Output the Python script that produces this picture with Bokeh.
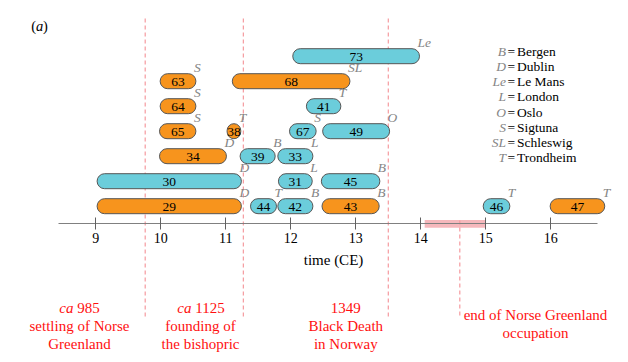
from bokeh.plotting import figure
from bokeh.models import Range1d, FixedTicker, ColumnDataSource
from bokeh.core.properties import value
from bokeh.embed import file_html
from bokeh.resources import INLINE

# ---------------- data ----------------
ids    = ["29", "44", "42", "43", "46", "47",
          "30", "31", "45",
          "34", "39", "33",
          "65", "38", "67", "49",
          "64", "41",
          "63", "68",
          "73"]
rows   = [1, 1, 1, 1, 1, 1,
          2, 2, 2,
          3, 3, 3,
          4, 4, 4, 4,
          5, 5,
          6, 6,
          7]
starts = [9.02, 11.38, 11.80, 12.48, 14.96, 15.99,
          9.02, 11.81, 12.47,
          9.98, 11.22, 11.80,
          9.98, 11.02, 11.98, 12.49,
          9.99, 12.24,
          9.99, 11.10,
          12.03]
ends   = [11.24, 11.78, 12.34, 13.36, 15.37, 16.83,
          11.24, 12.33, 13.37,
          11.01, 11.76, 12.34,
          10.54, 11.23, 12.39, 13.52,
          10.54, 12.77,
          10.54, 12.91,
          13.98]
kinds  = ["o", "b", "b", "o", "b", "o",
          "b", "b", "b",
          "o", "b", "b",
          "o", "o", "b", "b",
          "o", "b",
          "o", "o",
          "b"]
places = ["D", "T", "B", "B", "T", "T",
          "D", "L", "B",
          "D", "B", "L",
          "S", "T", "S", "O",
          "S", "T",
          "S", "SL",
          "Le"]

legend_abbr  = ["B", "D", "Le", "L", "O", "S", "SL", "T"]
legend_names = ["Bergen", "Dublin", "Le Mans", "London", "Oslo", "Sigtuna", "Schleswig", "Trondheim"]

tick_values = [9, 10, 11, 12, 13, 14, 15, 16]
event_x = [9.76, 11.27, 13.50, 14.60]
end_period = (14.06, 15.00)

# ---------------- layout helpers ----------------
W, H = 620, 354
OFF = 0
PX_C = 65.0
C9_X = 95.3
ROW1_Y = 205.7
PX_ROW = 25.0
X0 = 9 - (C9_X - OFF) / PX_C
Y_TOP = 1 + (ROW1_Y - OFF) / PX_ROW


def cx(px):
    return X0 + (px - OFF) / PX_C


def ry(py):
    return Y_TOP - (py - OFF) / PX_ROW


SERIF = value("Liberation Serif")
ORANGE = "#f7941d"
BLUE = "#6bcddb"
EDGE = "#555555"
GRAY = "#858585"
RED = "#ff1010"
DASH = "#f59a9f"

p = figure(width=W, height=H, output_backend="svg", toolbar_location=None,
           x_range=Range1d(X0, X0 + W / PX_C),
           y_range=Range1d(Y_TOP - H / PX_ROW, Y_TOP),
           y_axis_location=None, min_border=0, tools="")
p.outline_line_color = None
p.xgrid.visible = False
p.ygrid.visible = False
p.background_fill_color = "white"

# axis
ax = p.xaxis[0]
ax.fixed_location = ry(223.3)
ax.ticker = FixedTicker(ticks=tick_values)
ax.bounds = (cx(58.3), cx(596.7))
ax.axis_line_color = "#808080"
ax.major_tick_line_color = "#606060"
ax.major_tick_in = 6
ax.major_tick_out = 6
ax.minor_tick_line_color = None
ax.major_label_standoff = 3
ax.major_label_text_font = "Liberation Serif"
ax.major_label_text_font_size = "14px"
ax.major_label_text_color = "black"

# end-of-occupation band
p.quad(left=[end_period[0]], right=[end_period[1]],
       bottom=[ry(227.3)], top=[ry(219.4)], fill_color="#f08890", fill_alpha=0.6,
       line_color=None)

# dashed event lines
top_y = [ry(18), ry(18), ry(18), ry(220)]
bot_y = [ry(318.5), ry(318.5), ry(318.5), ry(317)]
p.segment(x0=event_x, y0=top_y, x1=event_x, y1=bot_y,
          line_color=DASH, line_width=1.2, line_dash="4 3")

# bars
colors = [ORANGE if k == "o" else BLUE for k in kinds]
src = ColumnDataSource(dict(id=ids, row=rows, s=starts, e=ends,
                            mid=[(a + b) / 2 for a, b in zip(starts, ends)],
                            color=colors, place=places))
p.hbar(y="row", left="s", right="e", height=15 / PX_ROW, source=src,
       fill_color="color", line_color=EDGE, line_width=1, border_radius=8)
p.text(x="mid", y="row", text="id", source=src, text_font=SERIF,
       text_font_size="13.5px", text_align="center", text_baseline="middle",
       text_color="black", y_offset=1)
p.text(x="e", y="row", text="place", source=src, text_font=SERIF,
       text_font_style="italic", text_font_size="13.5px", text_align="left",
       text_baseline="middle", text_color=GRAY, x_offset=-2, y_offset=-14)

# legend of places
leg_y = [ry(50 + 15.15 * i) for i in range(len(legend_abbr))]
p.text(x=[cx(505.5)] * len(legend_abbr), y=leg_y, text=legend_abbr,
       text_font=SERIF, text_font_style="italic", text_font_size="13.5px",
       text_align="right", text_baseline="middle", text_color=GRAY, y_offset=1)
p.text(x=[cx(510.8)] * len(legend_abbr), y=leg_y, text=["="] * len(legend_abbr),
       text_font=SERIF, text_font_size="13.5px", text_align="center",
       text_baseline="middle", text_color="black", y_offset=1)
p.text(x=[cx(516.5)] * len(legend_abbr), y=leg_y, text=legend_names,
       text_font=SERIF, text_font_size="13.5px", text_align="left",
       text_baseline="middle", text_color="black", y_offset=1)

# axis title
p.text(x=[cx(333)], y=[ry(259.5)], text=["time (CE)"], text_font=SERIF,
       text_font_size="15px", text_align="center", text_baseline="middle",
       text_color="black")

# panel label
p.text(x=[cx(30.7)], y=[ry(25)], text=["("], text_font=SERIF, text_font_size="14.5px",
       text_align="left", text_baseline="middle", text_color="black")
p.text(x=[cx(35.5)], y=[ry(25)], text=["a"], text_font=SERIF, text_font_size="14.5px",
       text_font_style="italic", text_align="left", text_baseline="middle",
       text_color="black")
p.text(x=[cx(42.6)], y=[ry(25)], text=[")"], text_font=SERIF, text_font_size="14.5px",
       text_align="left", text_baseline="middle", text_color="black")

# event annotations
FS = "15px"
p.text(x=[cx(73.0), cx(191.0)], y=[ry(307.5)] * 2, text=["ca", "ca"],
       text_font=SERIF, text_font_style="italic", text_font_size=FS,
       text_align="right", text_baseline="middle", text_color=RED)
p.text(x=[cx(76.8), cx(194.8)], y=[ry(307.5)] * 2, text=["985", "1125"],
       text_font=SERIF, text_font_size=FS, text_align="left",
       text_baseline="middle", text_color=RED)
p.text(x=[cx(79), cx(200), cx(345.3), cx(79), cx(200), cx(345.3), cx(345.3)],
       y=[ry(325.5), ry(325.5), ry(325.5), ry(343.3), ry(343.3), ry(343.3), ry(307.5)],
       text=["settling of Norse", "founding of", "Black Death",
             "Greenland", "the bishopric", "in Norway", "1349"],
       text_font=SERIF, text_font_size=FS, text_align="center",
       text_baseline="middle", text_color=RED)
p.text(x=[cx(535), cx(535)], y=[ry(314.5), ry(332.5)],
       text=["end of Norse Greenland", "occupation"],
       text_font=SERIF, text_font_size=FS, text_align="center",
       text_baseline="middle", text_color=RED)

open("out.html", "w").write(file_html(p, INLINE))
